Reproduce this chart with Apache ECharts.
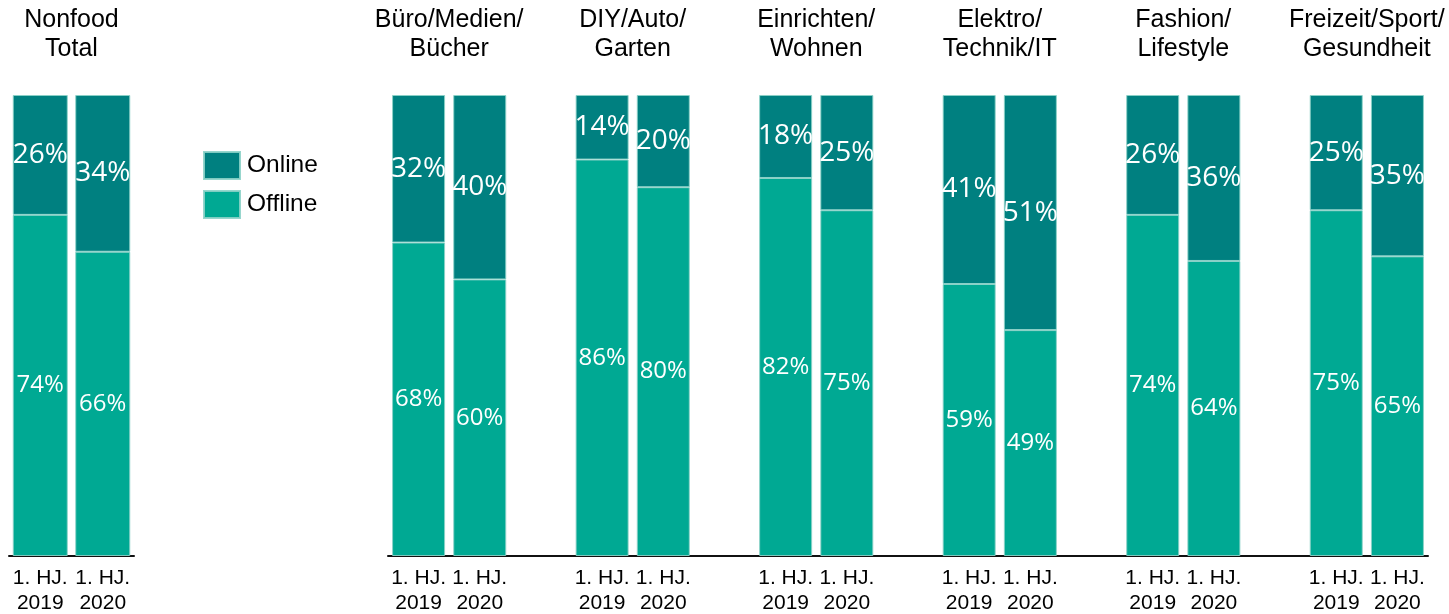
<!DOCTYPE html>
<html>
<head>
<meta charset="utf-8">
<script src="https://cdn.jsdelivr.net/npm/echarts@6/dist/echarts.min.js"></script>
<style>html,body{margin:0;padding:0;background:#fff}#c{width:1449px;height:614px}</style>
</head>
<body>
<div id="c"></div>
<script>
// ---- data ----
const totalTitle = ['Nonfood\nTotal'];
const groups = ['Büro/Medien/\nBücher', 'DIY/Auto/\nGarten', 'Einrichten/\nWohnen', 'Elektro/\nTechnik/IT', 'Fashion/\nLifestyle', 'Freizeit/Sport/\nGesundheit'];
const periods = ['1. HJ.\n2019', '1. HJ.\n2020'];
const totalOnline = [26, 34];
const totalOffline = [74, 66];
const groupOnline = [[32, 40], [14, 20], [18, 25], [41, 51], [26, 36], [25, 35]];
const groupOffline = [[68, 60], [86, 80], [82, 75], [59, 49], [74, 64], [75, 65]];

// ---- build category slots (two bars per group, one empty slot between groups) ----
const cats = [], onVals = [], offVals = [], centers = [];
groups.forEach((g, i) => {
  centers.push(cats.length + 0.5);
  periods.forEach((p, j) => {
    cats.push(p);
    onVals.push(groupOnline[i][j]);
    offVals.push(groupOffline[i][j]);
  });
  if (i < groups.length - 1) { cats.push(''); onVals.push('-'); offVals.push('-'); }
});

const ONLINE = '#008080', OFFLINE = '#00a993';
const FONT = 'Liberation Sans';
const border = { borderColor: 'rgba(140,210,200,0.9)', borderWidth: 1 };
const onLabel = { show: true, position: 'inside', formatter: '{c}%', color: '#fff', fontFamily: 'Open Sans', fontSize: 28 };
const offLabel = { show: true, position: 'inside', formatter: '{c}%', color: '#fff', fontFamily: 'Open Sans', fontSize: 24 };
const catLabel = { color: '#000', fontFamily: FONT, fontSize: 21, lineHeight: 25, margin: 10, interval: 0 };
const titleLabel = { color: '#000', fontFamily: FONT, fontSize: 25, lineHeight: 29, margin: 31 };

const chart = echarts.init(document.getElementById('c'), null, { renderer: 'canvas' });
chart.setOption({
  animation: false,
  backgroundColor: '#fff',
  legend: {
    data: ['Online', 'Offline'],
    orient: 'vertical',
    left: 198, top: 146,
    itemWidth: 36, itemHeight: 27, itemGap: 10,
    icon: 'rect',
    textStyle: { color: '#000', fontFamily: FONT, fontSize: 24.5, padding: [0, 0, 0, 2] }
  },
  grid: [
    { left: 9, width: 125, top: 95, bottom: 58, outerBoundsMode: 'none', containLabel: false },
    { left: 388, width: 1040, top: 95, bottom: 58, outerBoundsMode: 'none', containLabel: false }
  ],
  xAxis: [
    { gridIndex: 0, type: 'category', data: periods, axisLine: { lineStyle: { color: '#111', width: 2 } }, axisTick: { show: false }, axisLabel: catLabel },
    { gridIndex: 1, type: 'category', data: cats, axisLine: { lineStyle: { color: '#111', width: 2 } }, axisTick: { show: false }, axisLabel: catLabel },
    { gridIndex: 0, type: 'category', position: 'top', data: totalTitle, axisLine: { show: false }, axisTick: { show: false }, axisLabel: titleLabel },
    { gridIndex: 1, type: 'value', position: 'top', min: -0.5, max: cats.length - 0.5,
      axisLine: { show: false }, axisTick: { show: false }, splitLine: { show: false },
      axisLabel: Object.assign({}, titleLabel, { customValues: centers, formatter: v => groups[Math.round((v - 0.5) / 3)] || '' }) }
  ],
  yAxis: [
    { gridIndex: 0, type: 'value', min: 0, max: 100, show: false },
    { gridIndex: 1, type: 'value', min: 0, max: 100, show: false }
  ],
  series: [
    { name: 'Offline', type: 'bar', stack: 't', xAxisIndex: 0, yAxisIndex: 0, data: totalOffline, barWidth: 55, itemStyle: Object.assign({ color: OFFLINE }, border), label: offLabel },
    { name: 'Online', type: 'bar', stack: 't', xAxisIndex: 0, yAxisIndex: 0, data: totalOnline, barWidth: 55, itemStyle: Object.assign({ color: ONLINE }, border), label: onLabel },
    { name: 'Offline', type: 'bar', stack: 'g', xAxisIndex: 1, yAxisIndex: 1, data: offVals, barWidth: 53, itemStyle: Object.assign({ color: OFFLINE }, border), label: offLabel },
    { name: 'Online', type: 'bar', stack: 'g', xAxisIndex: 1, yAxisIndex: 1, data: onVals, barWidth: 53, itemStyle: Object.assign({ color: ONLINE }, border), label: onLabel }
  ]
});
</script>
</body>
</html>
